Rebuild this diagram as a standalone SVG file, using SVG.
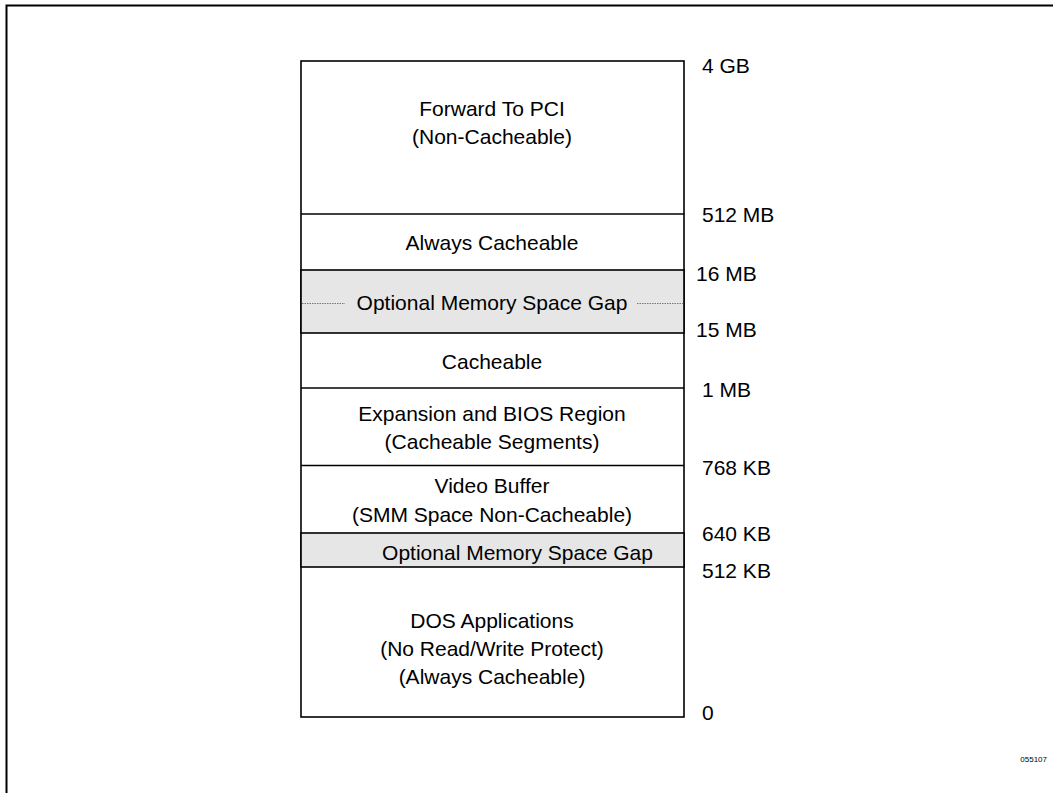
<svg xmlns="http://www.w3.org/2000/svg" width="1053" height="793" viewBox="0 0 1053 793">
<style>
.t{font-family:"Liberation Sans",Arial,sans-serif;font-size:21px;fill:#000}
.c{text-anchor:middle}
.ln{stroke:#000;stroke-width:1.6;fill:none}
.gap{fill:#e6e6e6;stroke:#000;stroke-width:1.6}
.dot{stroke:#777;stroke-width:1;stroke-dasharray:1.5 1}
</style>
<rect width="1053" height="793" fill="#fff"/>
<path d="M6.5 793V5.5H1053" fill="none" stroke="#000" stroke-width="2"/>
<g id="box">
<rect x="301" y="61" width="383" height="656" class="ln"/>
</g>
<g id="forward-pci">
<text class="t c" x="492" y="116">Forward To PCI</text>
<text class="t c" x="492" y="144">(Non-Cacheable)</text>
</g>
<g id="always-cacheable">
<line x1="301" y1="214" x2="684" y2="214" class="ln"/>
<text class="t c" x="492" y="249.5">Always Cacheable</text>
</g>
<g id="gap-16-15">
<rect x="301" y="270" width="383" height="63" class="gap"/>
<line x1="302" y1="303.5" x2="345" y2="303.5" class="dot"/>
<line x1="637" y1="303.5" x2="683" y2="303.5" class="dot"/>
<text class="t c" x="492" y="310">Optional Memory Space Gap</text>
</g>
<g id="cacheable">
<text class="t c" x="492" y="368.5">Cacheable</text>
</g>
<g id="expansion-bios">
<line x1="301" y1="388" x2="684" y2="388" class="ln"/>
<text class="t c" x="492" y="420.5">Expansion and BIOS Region</text>
<text class="t c" x="492" y="449">(Cacheable Segments)</text>
</g>
<g id="video-buffer">
<line x1="301" y1="465.5" x2="684" y2="465.5" class="ln"/>
<text class="t c" x="492" y="493">Video Buffer</text>
<text class="t c" x="492" y="522">(SMM Space Non-Cacheable)</text>
</g>
<g id="gap-640-512">
<rect x="301" y="533" width="383" height="34" class="gap"/>
<text class="t c" x="517.5" y="560">Optional Memory Space Gap</text>
</g>
<g id="dos-applications">
<text class="t c" x="492" y="628">DOS Applications</text>
<text class="t c" x="492" y="656">(No Read/Write Protect)</text>
<text class="t c" x="492" y="684">(Always Cacheable)</text>
</g>
<g id="addresses">
<text class="t" x="702" y="73">4 GB</text>
<text class="t" x="702" y="222">512 MB</text>
<text class="t" x="696" y="280.5">16 MB</text>
<text class="t" x="696" y="337">15 MB</text>
<text class="t" x="702" y="396.5">1 MB</text>
<text class="t" x="702" y="475">768 KB</text>
<text class="t" x="702" y="540.5">640 KB</text>
<text class="t" x="702" y="578">512 KB</text>
<text class="t" x="702" y="720">0</text>
</g>
<text x="1047" y="762" font-family="Liberation Sans, Arial, sans-serif" font-size="8" text-anchor="end">055107</text>
</svg>
